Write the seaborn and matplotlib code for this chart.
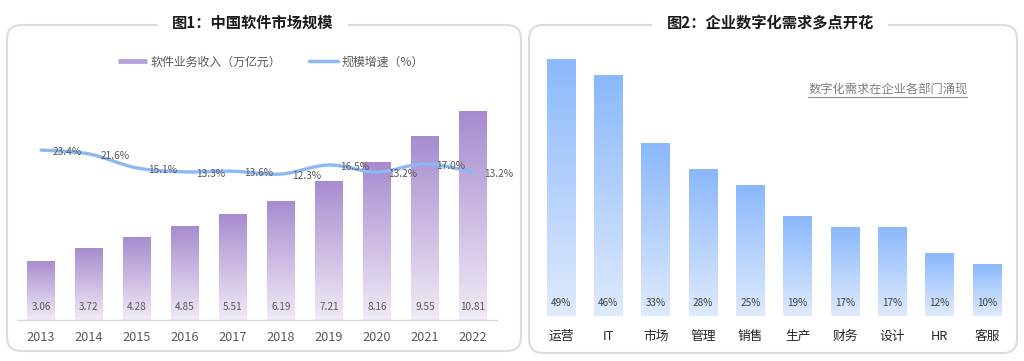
import numpy as np
import seaborn as sns
import matplotlib.pyplot as plt
from matplotlib.patches import FancyBboxPatch, PathPatch
from matplotlib.path import Path
from matplotlib.lines import Line2D
from matplotlib.colors import LinearSegmentedColormap

# chart 1: software market
years = ['2013', '2014', '2015', '2016', '2017', '2018', '2019', '2020', '2021', '2022']
revenue = [3.06, 3.72, 4.28, 4.85, 5.51, 6.19, 7.21, 8.16, 9.55, 10.81]
growth = [23.4, 21.6, 15.1, 13.3, 13.6, 12.3, 16.5, 13.2, 17.0, 13.2]

# chart 2: digital demand by department
depts = ['运营', 'IT', '市场', '管理', '销售', '生产', '财务', '设计', 'HR', '客服']
demand = [49, 46, 33, 28, 25, 19, 17, 17, 12, 10]

sns.set_theme(style='white')
plt.rcParams['font.family'] = ['Noto Sans CJK SC', 'DejaVu Sans']

W, H = 1024, 361
fig = plt.figure(figsize=(W / 100, H / 100), dpi=100)


def px_axes(x0, y0, x1, y1):
    # box given in pixels, origin top-left
    a = fig.add_axes([x0 / W, 1 - y1 / H, (x1 - x0) / W, (y1 - y0) / H])
    a.patch.set_alpha(0)
    return a


def gradient_bars(ax, top, bottom):
    cmap = LinearSegmentedColormap.from_list('g', [bottom, top])
    grad = np.linspace(0, 1, 256).reshape(-1, 1)
    xl, yl = ax.get_xlim(), ax.get_ylim()
    for p in ax.patches:
        x0, y0, w, h = p.get_x(), p.get_y(), p.get_width(), p.get_height()
        im = ax.imshow(grad, cmap=cmap, extent=[x0, x0 + w, y0, y0 + h], origin='lower',
                       aspect='auto', interpolation='bilinear', zorder=p.get_zorder())
        im.set_clip_path(p)
        p.set_facecolor('none')
        p.set_edgecolor('none')
    ax.set_xlim(xl)
    ax.set_ylim(yl)


# background layer: panel frames and titles
bg = fig.add_axes([0, 0, 1, 1], zorder=0)
bg.set_xlim(0, W)
bg.set_ylim(H, 0)
bg.axis('off')
for (x0, y0, x1, y1) in [(7, 25, 521, 351), (529, 25, 1017, 353)]:
    bg.add_patch(FancyBboxPatch((x0, y0), x1 - x0, y1 - y0, boxstyle='round,pad=0,rounding_size=14',
                                fc='none', ec='#dcdcdc', lw=1.5))
title_box = dict(boxstyle='square,pad=0.95', fc='white', ec='none')
bg.text(253, 23, '图1：中国软件市场规模', ha='center', va='center', fontsize=11,
        fontweight='bold', color='#1a1a1a', bbox=title_box, zorder=5)
bg.text(770, 23, '图2：企业数字化需求多点开花', ha='center', va='center', fontsize=11,
        fontweight='bold', color='#1a1a1a', bbox=title_box, zorder=5)
bg.text(888, 90, '数字化需求在企业各部门涌现', ha='center', va='center', fontsize=8.8, color='#7f7f7f')
bg.plot([808, 967], [97, 97], color='#8c8c8c', lw=0.8)

# ---- left chart
ax1 = px_axes(17, 60, 497, 320)
sns.barplot(x=years, y=revenue, ax=ax1, width=0.58, color='#a88bcf', saturation=1)
ax1.set_xlim(-0.5, 9.5)
ax1.set_ylim(0, 13.47)
gradient_bars(ax1, '#a88bcf', '#f0ebf6')
for i, v in enumerate(revenue):
    ax1.annotate(f'{v:.2f}', (i, 0), xytext=(0, 9.4), textcoords='offset points',
                 ha='center', va='center', fontsize=7.2, color='#595959')
ax1.set_yticks([])
ax1.set_xlabel('')
ax1.tick_params(axis='x', length=0, pad=8, labelsize=9.2, labelcolor='#595959')
for s in ['top', 'right', 'left']:
    ax1.spines[s].set_visible(False)
ax1.spines['bottom'].set_color('#d9d9d9')
ax1.spines['bottom'].set_linewidth(1)

ax2 = ax1.twinx()
ax2.patch.set_alpha(0)
ax2.set_ylim(-55.3, 65.1)
ax2.set_yticks([])
for s in ax2.spines.values():
    s.set_visible(False)

# smooth growth line (catmull-rom style bezier through the data points)
pts = np.column_stack([np.arange(len(growth)), growth]).astype(float)
ext = np.vstack([pts[0], pts, pts[-1]])
verts, codes = [tuple(pts[0])], [Path.MOVETO]
for i in range(len(pts) - 1):
    p0, p1, p2, p3 = ext[i], ext[i + 1], ext[i + 2], ext[i + 3]
    verts += [tuple(p1 + (p2 - p0) / 6), tuple(p2 - (p3 - p1) / 6), tuple(p2)]
    codes += [Path.CURVE4] * 3
ax2.add_patch(PathPatch(Path(verts, codes), fc='none', ec='#8cb8f4', lw=2.4,
                        capstyle='round', zorder=4))
for i, v in enumerate(growth):
    ax2.annotate(f'{v:.1f}%', (i, v), xytext=(18.7, -1.5), textcoords='offset points',
                 ha='center', va='center', fontsize=7.3, color='#595959', zorder=5)

handles = [Line2D([], [], color='#b8a2db', lw=3.5, solid_capstyle='butt'),
           Line2D([], [], color='#8cb8f4', lw=2.5, solid_capstyle='round')]
ax2.legend(handles, ['软件业务收入（万亿元）', '规模增速（%）'], loc='center',
           bbox_to_anchor=(271 / W, 1 - 62 / H), bbox_transform=fig.transFigure, ncol=2,
           frameon=False, fontsize=8.6, handlelength=2.4, handletextpad=0.3,
           columnspacing=2.4, labelcolor='#595959')

# ---- right chart
ax3 = px_axes(537.3, 50, 1010.7, 316)
sns.barplot(x=depts, y=demand, ax=ax3, width=0.6, color='#8ab8fc', saturation=1)
ax3.set_xlim(-0.5, 9.5)
ax3.set_ylim(0, 50.67)
gradient_bars(ax3, '#8ab8fc', '#dfeafd')
for i, v in enumerate(demand):
    ax3.annotate(f'{v}%', (i, 0), xytext=(0, 9.4), textcoords='offset points',
                 ha='center', va='center', fontsize=7.2, color='#404040')
ax3.set_yticks([])
ax3.set_xlabel('')
ax3.tick_params(axis='x', length=0, pad=10, labelsize=9.2, labelcolor='#262626')
for s in ax3.spines.values():
    s.set_visible(False)

fig.savefig('out.png', dpi=100)
